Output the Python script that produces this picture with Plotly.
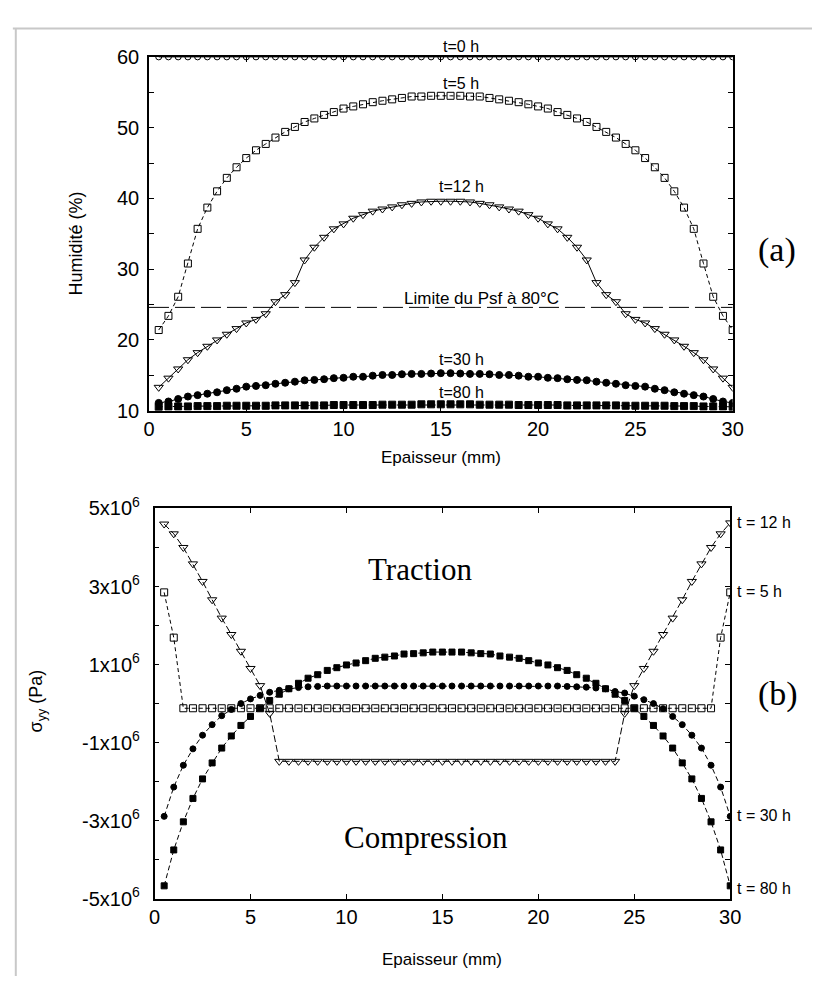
import plotly.graph_objects as go

W, H = 823, 987

# ---------------- data ----------------
x_pos = [0.5, 1.0, 1.5, 2.0, 2.5, 3.0, 3.5, 4.0, 4.5, 5.0, 5.5, 6.0, 6.5, 7.0, 7.5,
         8.0, 8.5, 9.0, 9.5, 10.0, 10.5, 11.0, 11.5, 12.0, 12.5, 13.0, 13.5, 14.0, 14.5, 15.0,
         15.5, 16.0, 16.5, 17.0, 17.5, 18.0, 18.5, 19.0, 19.5, 20.0, 20.5, 21.0, 21.5, 22.0, 22.5,
         23.0, 23.5, 24.0, 24.5, 25.0, 25.5, 26.0, 26.5, 27.0, 27.5, 28.0, 28.5, 29.0, 29.5, 30.0]

# (a) humidity (%)
hum_t0 = [60.0] * 60
hum_t5 = [21.4, 23.4, 26.1, 30.8, 35.7, 38.7, 41.0, 42.9, 44.4, 45.7, 46.8, 47.7, 48.6, 49.4, 50.1,
          50.8, 51.3, 51.8, 52.2, 52.7, 53.0, 53.3, 53.6, 53.8, 54.0, 54.2, 54.4, 54.4, 54.5, 54.5,
          54.5, 54.5, 54.4, 54.4, 54.2, 54.0, 53.8, 53.6, 53.3, 53.0, 52.7, 52.2, 51.8, 51.3, 50.8,
          50.1, 49.4, 48.6, 47.7, 46.8, 45.7, 44.4, 42.9, 41.0, 38.7, 35.7, 30.8, 26.1, 23.4, 21.4]
hum_t12 = [13.3, 14.6, 15.9, 17.2, 18.2, 19.1, 20.0, 20.8, 21.6, 22.4, 22.9, 23.7, 25.4, 26.4, 28.1,
           31.3, 33.1, 34.5, 35.7, 36.4, 37.2, 37.7, 38.2, 38.5, 38.8, 39.1, 39.3, 39.5, 39.6, 39.6,
           39.6, 39.6, 39.5, 39.3, 39.1, 38.8, 38.5, 38.2, 37.7, 37.2, 36.4, 35.7, 34.5, 33.1, 31.3,
           28.1, 26.4, 25.4, 23.7, 22.9, 22.4, 21.6, 20.8, 20.0, 19.1, 18.2, 17.2, 15.9, 14.6, 13.3]
hum_t30 = [11.1, 11.3, 11.65, 12.0, 12.2, 12.4, 12.6, 12.9, 13.1, 13.4, 13.5, 13.6, 13.8, 13.95, 14.1,
           14.3, 14.35, 14.45, 14.6, 14.65, 14.8, 14.8, 14.95, 15.05, 15.05, 15.15, 15.2, 15.2, 15.25, 15.3,
           15.3, 15.25, 15.2, 15.2, 15.15, 15.05, 15.05, 14.95, 14.8, 14.8, 14.65, 14.6, 14.45, 14.35, 14.3,
           14.1, 13.95, 13.8, 13.6, 13.5, 13.4, 13.1, 12.9, 12.6, 12.4, 12.2, 12.0, 11.65, 11.3, 11.1]
hum_t80 = [10.55, 10.6, 10.6, 10.6, 10.65, 10.65, 10.65, 10.7, 10.7, 10.7, 10.7, 10.7, 10.75, 10.75, 10.75,
           10.75, 10.75, 10.75, 10.8, 10.8, 10.8, 10.8, 10.8, 10.85, 10.85, 10.85, 10.85, 10.9, 10.9, 10.9,
           10.9, 10.9, 10.9, 10.85, 10.85, 10.85, 10.85, 10.8, 10.8, 10.8, 10.8, 10.8, 10.75, 10.75, 10.75,
           10.75, 10.75, 10.75, 10.7, 10.7, 10.7, 10.7, 10.7, 10.65, 10.65, 10.65, 10.6, 10.6, 10.6, 10.55]
psf_limit = 24.6

# (b) stress sigma_yy, in units of 1e6 Pa
sig_t5 = [2.85, 1.69, -0.12, -0.12, -0.12, -0.12, -0.12, -0.12, -0.12, -0.12, -0.12, -0.12, -0.12, -0.12, -0.12,
          -0.12, -0.12, -0.12, -0.12, -0.12, -0.12, -0.12, -0.12, -0.12, -0.12, -0.12, -0.12, -0.12, -0.12, -0.12,
          -0.12, -0.12, -0.12, -0.12, -0.12, -0.12, -0.12, -0.12, -0.12, -0.12, -0.12, -0.12, -0.12, -0.12, -0.12,
          -0.12, -0.12, -0.12, -0.12, -0.12, -0.12, -0.12, -0.12, -0.12, -0.12, -0.12, -0.12, -0.12, 1.69, 2.85]
sig_t12 = [4.60, 4.35, 4.00, 3.58, 3.13, 2.66, 2.19, 1.77, 1.34, 0.90, 0.46, -0.25, -1.48, -1.48, -1.48,
           -1.48, -1.48, -1.48, -1.48, -1.48, -1.48, -1.48, -1.48, -1.48, -1.48, -1.48, -1.48, -1.48, -1.48, -1.48,
           -1.48, -1.48, -1.48, -1.48, -1.48, -1.48, -1.48, -1.48, -1.48, -1.48, -1.48, -1.48, -1.48, -1.48, -1.48,
           -1.48, -1.48, -1.48, -0.25, 0.46, 0.90, 1.34, 1.77, 2.19, 2.66, 3.13, 3.58, 4.00, 4.35, 4.63]
sig_t30 = [-2.89, -2.14, -1.58, -1.16, -0.81, -0.54, -0.31, -0.15, 0.00, 0.12, 0.21, 0.29, 0.34, 0.38, 0.41,
           0.43, 0.44, 0.45, 0.45, 0.45, 0.45, 0.45, 0.45, 0.45, 0.45, 0.45, 0.45, 0.45, 0.45, 0.45,
           0.45, 0.45, 0.45, 0.45, 0.45, 0.45, 0.45, 0.45, 0.45, 0.45, 0.45, 0.45, 0.44, 0.43, 0.42,
           0.40, 0.38, 0.31, 0.27, 0.19, 0.10, 0.00, -0.13, -0.33, -0.54, -0.81, -1.14, -1.58, -2.14, -2.89]
sig_t80 = [-4.67, -3.75, -3.03, -2.43, -1.93, -1.52, -1.14, -0.83, -0.56, -0.33, -0.12, 0.08, 0.24, 0.38, 0.52,
           0.65, 0.74, 0.85, 0.92, 0.99, 1.04, 1.10, 1.16, 1.19, 1.22, 1.27, 1.28, 1.30, 1.32, 1.32,
           1.32, 1.32, 1.30, 1.28, 1.27, 1.22, 1.19, 1.16, 1.10, 1.04, 0.99, 0.92, 0.85, 0.74, 0.65,
           0.52, 0.38, 0.24, 0.08, -0.12, -0.33, -0.56, -0.83, -1.14, -1.52, -1.93, -2.43, -3.03, -3.75, -4.67]

hum_ticks = [10, 15, 20, 25, 30, 35, 40, 45, 50, 55, 60]
hum_ticktext = ["10", "", "20", "", "30", "", "40", "", "50", "", "60"]
sig_ticks = [-5, -4, -3, -2, -1, 0, 1, 2, 3, 4, 5]
sig_ticktext = ["-5x10<sup>6</sup>", "", "-3x10<sup>6</sup>", "", "-1x10<sup>6</sup>", "",
                "1x10<sup>6</sup>", "", "3x10<sup>6</sup>", "", "5x10<sup>6</sup>"]
x_ticks = [0, 5, 10, 15, 20, 25, 30]

# ---------------- helpers (page pixels -> paper fraction) ----------------
def px(x):
    return x / W

def py(y):
    return 1 - y / H

SANS = "Liberation Sans, Arial, sans-serif"
SERIF = "Liberation Serif, Times New Roman, serif"

fig = go.Figure()

def add(x, y, xa, ya, symbol, size, dash, lw=1.0):
    fig.add_trace(go.Scatter(
        x=x, y=y, xaxis=xa, yaxis=ya, mode="lines+markers",
        line=dict(color="black", width=lw, dash=dash),
        marker=dict(symbol=symbol, size=size, color="black",
                    line=dict(color="black", width=1)),
        showlegend=False, hoverinfo="skip"))

# top panel
fig.add_trace(go.Scatter(x=[0, 30], y=[psf_limit, psf_limit], xaxis="x", yaxis="y", mode="lines",
                         line=dict(color="black", width=1, dash="20px,6px"), showlegend=False,
                         hoverinfo="skip"))
add(x_pos, hum_t0, "x", "y", "circle-open", 6, "solid")
add(x_pos, hum_t5, "x", "y", "square-open", 7, "4px,3px")
add(x_pos, hum_t12, "x", "y", "triangle-down-open", 8, "solid")
add(x_pos, hum_t30, "x", "y", "circle", 7, "solid")
add(x_pos, hum_t80, "x", "y", "square", 7, "4px,3px")

# bottom panel
add(x_pos, sig_t5, "x2", "y2", "square-open", 7, "4px,3px")
add(x_pos, sig_t12, "x2", "y2", "triangle-down-open", 8, "7px,3px")
add(x_pos, sig_t30, "x2", "y2", "circle", 6, "5px,3px")
add(x_pos, sig_t80, "x2", "y2", "square", 6, "5px,3px")

axis_common = dict(showline=True, linecolor="black", linewidth=1.5, mirror="ticks",
                   ticks="inside", ticklen=5, tickcolor="black", tickwidth=1,
                   showgrid=False, zeroline=False,
                   tickfont=dict(family=SANS, size=20, color="black"))

fig.update_layout(
    width=W, height=H,
    margin=dict(l=0, r=0, t=0, b=0),
    paper_bgcolor="white", plot_bgcolor="white",
    xaxis=dict(domain=[px(146), px(742)], range=[0, 30], anchor="y",
               tickvals=x_ticks, **axis_common),
    yaxis=dict(domain=[py(407), py(44)], range=[10, 60], anchor="x",
               tickvals=hum_ticks, ticktext=hum_ticktext, ticklabelstandoff=4, **axis_common),
    xaxis2=dict(domain=[px(151.7), px(739.5)], range=[0, 30], anchor="y2",
                tickvals=x_ticks, **axis_common),
    yaxis2=dict(domain=[py(907.7), py(507.3)], range=[-5, 5], anchor="x2",
                tickvals=sig_ticks, ticktext=sig_ticktext, ticklabelstandoff=9, **axis_common),
)

def note(text, x, y, size=16, family=SANS, xanchor="center", angle=0):
    fig.add_annotation(text=text, x=px(x), y=py(y), xref="paper", yref="paper",
                       showarrow=False, xanchor=xanchor, yanchor="middle", textangle=angle,
                       font=dict(family=family, size=size, color="black"))

# top annotations
note("t=0 h", 465, 33)
note("t=5 h", 465, 71)
note("t=12 h", 465, 177)
note("Limite du Psf à 80°C", 486, 292, size=17)
note("t=30 h", 465, 354)
note("t=80 h", 465, 388)
note("(a)", 787, 242, size=34, family=SERIF)
note("Humidité (%)", 71, 236, size=18, angle=-90)
note("Epaisseur (mm)", 444, 455, size=17)

# bottom annotations
note("Traction", 423, 570, size=31, family=SERIF)
note("Compression", 429, 845, size=31, family=SERIF)
note("(b)", 788, 698, size=34, family=SERIF)
note("t = 12 h", 744, 522, size=16, xanchor="left")
note("t = 5 h", 744, 593, size=16, xanchor="left")
note("t = 30 h", 744, 822, size=16, xanchor="left")
note("t = 80 h", 744, 897, size=16, xanchor="left")
note("σ<sub>yy</sub> (Pa)", 32, 705, size=18, angle=-90)
note("Epaisseur (mm)", 445, 970, size=17)

# light grey frame
fig.add_shape(type="line", xref="paper", yref="paper", x0=px(7), x1=1, y0=py(15), y1=py(15),
              line=dict(color="#c8c8c8", width=2))
fig.add_shape(type="line", xref="paper", yref="paper", x0=px(10), x1=px(10), y0=py(15), y1=0,
              line=dict(color="#c8c8c8", width=2))

post = ("document.documentElement.style.margin='0';document.documentElement.style.overflow='hidden';"
        "document.body.style.margin='0';document.body.style.overflow='hidden';"
        "var d=document.getElementById('{plot_id}');d.style.position='fixed';"
        "d.style.left='0px';d.style.top='0px';")

fig.write_html("out.html", config={"displayModeBar": False}, post_script=post)
